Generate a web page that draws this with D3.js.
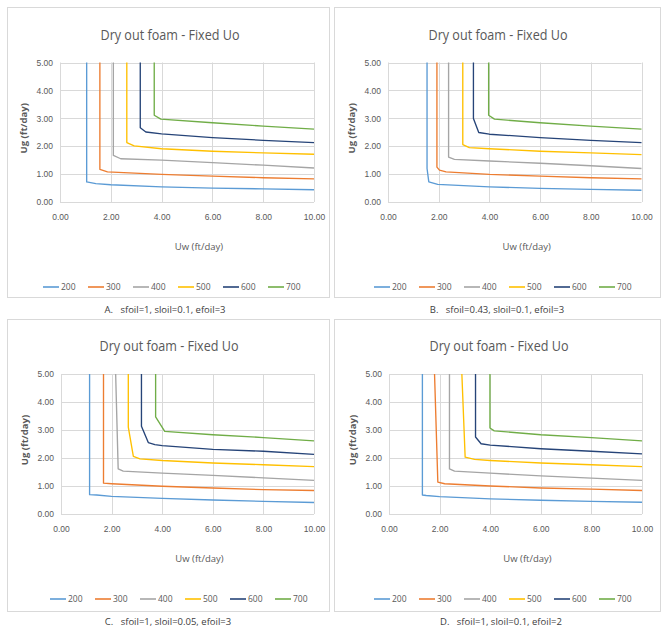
<!DOCTYPE html>
<html>
<head>
<meta charset="utf-8">
<script src="https://cdn.jsdelivr.net/npm/d3@7"></script>
<style>
  html, body { margin: 0; padding: 0; background: #fff; }
  svg { display: block; font-family: "Open Sans", "Liberation Sans", sans-serif; }
  .caption { white-space: pre; }
</style>
</head>
<body>
<svg id="chart" width="662" height="633"></svg>
<script>
// ---------- DATA ----------
const seriesNames = ["200", "300", "400", "500", "600", "700"];
const xTicks = [0, 2, 4, 6, 8, 10];
const yTicks = [0, 1, 2, 3, 4, 5];
const chartTitle = "Dry out foam - Fixed Uo";
const xTitle = "Uw (ft/day)";
const yTitle = "Ug  (ft/day)";
const captions = [
  "A.   sfoil=1, sloil=0.1, efoil=3",
  "B.   sfoil=0.43, sloil=0.1, efoil=3",
  "C.   sfoil=1, sloil=0.05, efoil=3",
  "D.   sfoil=1, sloil=0.1, efoil=2"
];

// Panel A: Uw and Ug per series (200..700)
const uwA = [
  [1.05, 1.05, 1.41, 2, 4, 6, 8, 10],
  [1.57, 1.57, 1.87, 4, 6, 8, 10],
  [2.10, 2.10, 2.39, 4, 6, 8, 10],
  [2.63, 2.63, 2.92, 4, 6, 8, 10],
  [3.16, 3.16, 3.38, 4, 6, 8, 10],
  [3.71, 3.71, 3.97, 6, 8, 10]
];
const ugA = [
  [5, 0.72, 0.66, 0.62, 0.54, 0.50, 0.47, 0.44],
  [5, 1.17, 1.08, 0.99, 0.93, 0.87, 0.83],
  [5, 1.67, 1.55, 1.50, 1.41, 1.32, 1.22],
  [5, 2.13, 2.01, 1.91, 1.82, 1.76, 1.71],
  [5, 2.66, 2.51, 2.44, 2.31, 2.21, 2.13],
  [5, 3.11, 2.97, 2.84, 2.72, 2.61]
];

// Panel B
const uwB = [
  [1.54, 1.54, 1.61, 1.96, 4, 6, 8, 10],
  [1.93, 1.93, 2.03, 2.29, 4, 6, 8, 10],
  [2.39, 2.39, 2.62, 4, 6, 8, 10],
  [2.95, 2.95, 3.21, 4, 6, 8, 10],
  [3.37, 3.37, 3.58, 4, 6, 8, 10],
  [3.97, 3.97, 4.20, 6, 8, 10]
];
const ugB = [
  [5, 1.20, 0.72, 0.63, 0.54, 0.49, 0.45, 0.42],
  [5, 1.25, 1.14, 1.08, 0.99, 0.93, 0.87, 0.83],
  [5, 1.61, 1.53, 1.47, 1.39, 1.30, 1.20],
  [5, 2.06, 1.95, 1.91, 1.82, 1.76, 1.70],
  [5, 2.99, 2.49, 2.43, 2.31, 2.21, 2.13],
  [5, 3.11, 2.97, 2.84, 2.72, 2.61]
];

// Panel C
const uwC = [
  [1.13, 1.13, 1.41, 2, 4, 6, 8, 10],
  [1.68, 1.68, 2.00, 4, 6, 8, 10],
  [2.16, 2.26, 2.46, 4, 6, 8, 10],
  [2.66, 2.66, 2.86, 3.12, 4, 6, 8, 10],
  [3.18, 3.18, 3.45, 3.71, 4, 6, 8, 10],
  [3.74, 3.74, 4.10, 6, 8, 10]
];
const ugC = [
  [5, 0.69, 0.68, 0.63, 0.56, 0.50, 0.45, 0.41],
  [5, 1.10, 1.08, 0.99, 0.93, 0.87, 0.84],
  [5, 1.61, 1.53, 1.46, 1.38, 1.29, 1.20],
  [5, 3.10, 2.06, 1.97, 1.91, 1.82, 1.76, 1.69],
  [5, 3.13, 2.55, 2.48, 2.44, 2.31, 2.24, 2.13],
  [5, 3.47, 2.95, 2.83, 2.73, 2.61]
];

// Panel D
const uwD = [
  [1.32, 1.32, 1.47, 2, 4, 6, 8, 10],
  [1.80, 1.93, 2.20, 4, 6, 8, 10],
  [2.39, 2.39, 2.59, 4, 6, 8, 10],
  [2.88, 3.01, 3.38, 4, 6, 8, 10],
  [3.42, 3.42, 3.64, 4, 6, 8, 10],
  [3.99, 3.99, 4.16, 6, 8, 10]
];
const ugD = [
  [5, 0.68, 0.66, 0.62, 0.54, 0.49, 0.45, 0.42],
  [5, 1.14, 1.08, 1.00, 0.93, 0.89, 0.84],
  [5, 1.61, 1.53, 1.46, 1.36, 1.28, 1.20],
  [5, 2.03, 1.95, 1.91, 1.82, 1.76, 1.69],
  [5, 2.75, 2.51, 2.46, 2.33, 2.24, 2.15],
  [5, 3.07, 2.97, 2.83, 2.73, 2.61]
];

// ---------- STYLE / LAYOUT ----------
const colors = ["#5B9BD5", "#ED7D31", "#A5A5A5", "#FFC000", "#264478", "#70AD47"];
const panels = [
  { uw: uwA, ug: ugA, box: [7, 7, 323, 291],   plot: [60, 314, 62.5, 202],  titleX: 170, legX: 43,  capX: 165, capY: 313 },
  { uw: uwB, ug: ugB, box: [334, 7, 327, 291], plot: [388, 641.5, 62.5, 202], titleX: 498, legX: 374, capX: 497, capY: 313 },
  { uw: uwC, ug: ugC, box: [7, 319, 323, 293], plot: [61, 314, 374, 514],   titleX: 169, legX: 50,  capX: 168, capY: 625 },
  { uw: uwD, ug: ugD, box: [334, 319, 327, 293], plot: [389, 642, 374, 514], titleX: 499, legX: 374, capX: 501, capY: 625 }
];

const svg = d3.select("#chart");
const textColor = "#595959";

panels.forEach((p, pi) => {
  const g = svg.append("g");
  const [bx, by, bw, bh] = p.box;
  const [x0, x1, yTop, yBot] = p.plot;

  g.append("rect")
    .attr("x", bx + 0.5).attr("y", by + 0.5)
    .attr("width", bw - 1).attr("height", bh - 1)
    .attr("fill", "#fff").attr("stroke", "#d9d9d9").attr("stroke-width", 1);

  const x = d3.scaleLinear().domain([0, 10]).range([x0, x1]);
  const y = d3.scaleLinear().domain([0, 5]).range([yBot, yTop]);

  // gridlines
  g.append("g").selectAll("line").data(yTicks).join("line")
    .attr("x1", x0).attr("x2", x1)
    .attr("y1", d => Math.round(y(d)) + 0.5).attr("y2", d => Math.round(y(d)) + 0.5)
    .attr("stroke", "#d9d9d9").attr("stroke-width", 1);
  g.append("g").selectAll("line").data(xTicks).join("line")
    .attr("x1", d => Math.round(x(d)) + 0.5).attr("x2", d => Math.round(x(d)) + 0.5)
    .attr("y1", yTop).attr("y2", yBot)
    .attr("stroke", "#d9d9d9").attr("stroke-width", 1);

  // axes (labels only)
  const yAxis = d3.axisLeft(y).tickValues(yTicks).tickFormat(d3.format(".2f")).tickSize(0).tickPadding(7);
  const gy = g.append("g").attr("transform", `translate(${x0},0)`).call(yAxis);
  gy.select(".domain").remove();
  gy.selectAll("text").attr("fill", textColor).attr("font-size", 8.5);

  const xAxis = d3.axisBottom(x).tickValues(xTicks).tickFormat(d3.format(".2f")).tickSize(0).tickPadding(12);
  const gx = g.append("g").attr("transform", `translate(0,${yBot})`).call(xAxis);
  gx.select(".domain").remove();
  gx.selectAll("text").attr("fill", textColor).attr("font-size", 8.5);

  // series lines
  const line = d3.line().x(d => x(d[0])).y(d => y(d[1]));
  seriesNames.forEach((name, i) => {
    const pts = p.uw[i].map((u, k) => [u, p.ug[i][k]]);
    g.append("path").datum(pts)
      .attr("d", line)
      .attr("fill", "none")
      .attr("stroke", colors[i])
      .attr("stroke-width", 1.35)
      .attr("stroke-linejoin", "round");
  });

  // title
  g.append("text").attr("x", p.titleX).attr("y", yTop - 23)
    .attr("text-anchor", "middle").attr("fill", textColor)
    .attr("font-size", 15).attr("textLength", 139).attr("lengthAdjust", "spacingAndGlyphs")
    .text(chartTitle);

  // axis titles
  g.append("text").attr("x", (x0 + x1) / 2 + 12).attr("y", yBot + 48)
    .attr("text-anchor", "middle").attr("fill", textColor)
    .attr("font-size", 9.5).text(xTitle);
  g.append("text")
    .attr("transform", `translate(${x0 - 33},${(yTop + yBot) / 2 - 4}) rotate(-90)`)
    .attr("text-anchor", "middle").attr("fill", textColor)
    .attr("font-size", 9.5).attr("font-weight", "bold").text(yTitle);

  // legend
  const legY = yBot + 85;
  const leg = g.append("g");
  seriesNames.forEach((name, i) => {
    const lx = p.legX + i * 45;
    leg.append("line").attr("x1", lx).attr("x2", lx + 16)
      .attr("y1", legY).attr("y2", legY)
      .attr("stroke", colors[i]).attr("stroke-width", 1.6);
    leg.append("text").attr("x", lx + 18).attr("y", legY + 3)
      .attr("fill", textColor).attr("font-size", 8.5).text(name);
  });

  // caption
  svg.append("text").attr("class", "caption").attr("x", p.capX).attr("y", p.capY)
    .attr("text-anchor", "middle").attr("fill", "#404040")
    .attr("font-size", 9.5).text(captions[pi]);
});
</script>
</body>
</html>
